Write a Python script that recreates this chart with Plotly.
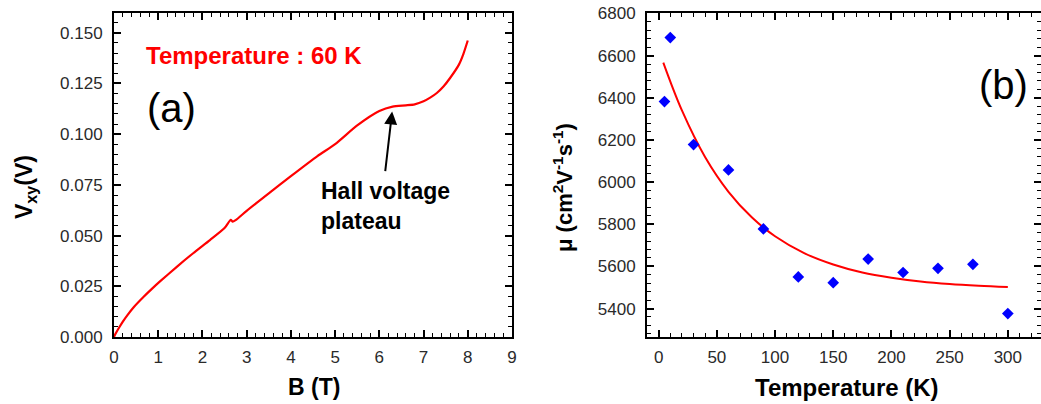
import plotly.graph_objects as go

# ---- Panel (a): Hall voltage vs B at 60 K ----
b_field = [0.0, 0.02, 0.06, 0.12, 0.2, 0.3, 0.45, 0.66, 0.85, 1.04, 1.42, 1.79, 2.17, 2.5, 2.64, 2.68, 2.75, 3.0,
           3.5, 4.0, 4.6, 5.0, 5.5, 6.0, 6.3, 6.6, 6.8, 7.0, 7.15, 7.3, 7.45, 7.6, 7.8, 7.9, 8.0]
v_xy = [0.0, 0.0010, 0.0026, 0.0048, 0.0076, 0.0107, 0.0148, 0.0196, 0.0236, 0.0274, 0.0346, 0.0413, 0.0478,
        0.0537, 0.0578, 0.0569, 0.0576, 0.0622, 0.0708, 0.0793, 0.0892, 0.0951, 0.1043, 0.1114, 0.1136, 0.1142,
        0.1147, 0.1162, 0.1180, 0.1203, 0.1235, 0.1277, 0.1343, 0.1395, 0.1462]

# ---- Panel (b): mobility vs temperature ----
temp_pts = [5, 10, 30, 60, 90, 120, 150, 180, 210, 240, 270, 300]
mu_pts = [6382, 6686, 6178, 6058, 5778, 5550, 5523, 5635, 5571, 5591, 5610, 5376]

temp_fit = [4, 20, 40, 60, 80, 100, 125, 150, 175, 200, 225, 250, 275, 300]
mu_fit = [6567, 6340, 6118, 5954, 5833, 5743, 5663, 5609, 5571, 5546, 5528, 5516, 5508, 5502]

# tick labels
xa_ticks = [0, 1, 2, 3, 4, 5, 6, 7, 8, 9]
ya_ticks = [0.0, 0.025, 0.05, 0.075, 0.1, 0.125, 0.15]
xb_ticks = [0, 50, 100, 150, 200, 250, 300]
yb_ticks = [5400, 5600, 5800, 6000, 6200, 6400, 6600, 6800]

# body margin is removed in the page, so layout uses reference pixels directly
W, H = 1041, 404
px = lambda x: x / W
py = lambda y: 1 - y / H

FONT = "Liberation Sans, Arial, sans-serif"
TICKCOL = "#2a2a2a"

fig = go.Figure()
fig.add_trace(go.Scatter(x=b_field, y=v_xy, mode="lines",
                         line=dict(color="#ff0000", width=2.2, shape="spline", smoothing=0.6),
                         xaxis="x", yaxis="y", showlegend=False, hoverinfo="skip"))
fig.add_trace(go.Scatter(x=temp_fit, y=mu_fit, mode="lines", line=dict(color="#ff0000", width=2, shape="spline"),
                         xaxis="x2", yaxis="y2", showlegend=False, hoverinfo="skip"))
fig.add_trace(go.Scatter(x=temp_pts, y=mu_pts, mode="markers",
                         marker=dict(symbol="diamond", size=9, color="#0000ff"),
                         xaxis="x2", yaxis="y2", showlegend=False, hoverinfo="skip"))

ydom = [py(337), py(13.3)]

common = dict(showgrid=False, zeroline=False, showline=True, linecolor="black", linewidth=2,
              mirror="ticks", ticks="inside", ticklen=7, tickwidth=1.5, tickcolor="black",
              tickfont=dict(family=FONT, size=17, color=TICKCOL), automargin=False,
              ticklabeloverflow="allow")
minor = lambda d: dict(dtick=d, ticks="inside", ticklen=4, tickwidth=1, tickcolor="black", showgrid=False)

fig.update_layout(
    width=W, height=H, margin=dict(l=0, r=0, t=0, b=0),
    paper_bgcolor="white", plot_bgcolor="white",
    xaxis=dict(domain=[px(114), px(512)], range=[0, 9.0001], tickvals=xa_ticks, anchor="y",
               minor=minor(0.2), ticklabelstandoff=4, **common),
    yaxis=dict(domain=ydom, range=[0, 0.1596], tickvals=ya_ticks, tickformat=".3f", anchor="x",
               minor=minor(0.005), ticklabelstandoff=6, **common),
    xaxis2=dict(domain=[px(647), 1.0], range=[-10, 328.5], tickvals=xb_ticks, anchor="y2",
                minor=minor(10), ticklabelstandoff=4, **common),
    yaxis2=dict(domain=ydom, range=[5265, 6801], tickvals=yb_ticks, tickformat="d", anchor="x2",
                minor=minor(40), ticklabelstandoff=6, **common),
)

ann = []
# axis titles
ann.append(dict(text="<b>B (T)</b>", x=px(314), y=py(387), xref="paper", yref="paper",
                xanchor="center", yanchor="middle",
                showarrow=False, font=dict(family=FONT, size=23, color="black")))
ann.append(dict(text="<b>Temperature (K)</b>", x=px(847), y=py(387), xref="paper", yref="paper",
                xanchor="center", yanchor="middle",
                showarrow=False, font=dict(family=FONT, size=24, color="black")))
ann.append(dict(text="<b>V<sub>xy</sub>(V)</b>", x=px(25), y=py(187), xref="paper", yref="paper",
                xanchor="center", yanchor="middle",
                showarrow=False, textangle=-90, font=dict(family=FONT, size=23, color="black")))
ann.append(dict(text="<b>\u03bc (cm<sup>2</sup>V<sup>-1</sup>s<sup>-1</sup>)</b>", x=px(563), y=py(188),
                xref="paper", yref="paper", xanchor="center", yanchor="middle",
                showarrow=False, textangle=-90,
                font=dict(family=FONT, size=22, color="black")))
# in-plot text
ann.append(dict(text="<b>Temperature : 60 K</b>", x=px(144), y=py(55), xref="paper", yref="paper",
                xanchor="left", yanchor="middle", showarrow=False,
                font=dict(family=FONT, size=24, color="#ff0000")))
ann.append(dict(text="(a)", x=1.31, y=0.1127, xref="x", yref="y", showarrow=False,
                xanchor="center", yanchor="middle", font=dict(family=FONT, size=40, color="black")))
ann.append(dict(text="(b)", x=296, y=6460, xref="x2", yref="y2", showarrow=False,
                xanchor="center", yanchor="middle", font=dict(family=FONT, size=40, color="black")))
ann.append(dict(text="<b>Hall voltage<br>plateau</b>", x=4.64, y=0.0648, xref="x", yref="y",
                xanchor="left", yanchor="middle", align="left", showarrow=False,
                font=dict(family=FONT, size=23, color="black")))
ann.append(dict(text="", x=6.29, y=0.1112, ax=6.13, ay=0.081, xref="x", yref="y", axref="x", ayref="y",
                showarrow=True, arrowhead=2, arrowsize=1.3, arrowwidth=2, arrowcolor="black"))
fig.update_layout(annotations=ann)

fig.write_html("out.html", config={"displayModeBar": False},
               post_script="document.body.style.margin='0px';")
